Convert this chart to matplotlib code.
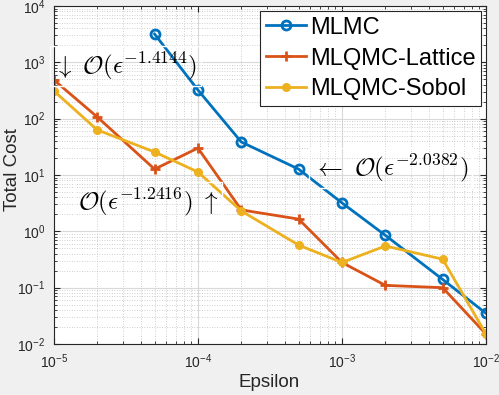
import matplotlib
matplotlib.use("Agg")
import matplotlib.pyplot as plt
import numpy as np

eps = [1e-5, 2e-5, 5e-5, 1e-4, 2e-4, 5e-4, 1e-3, 2e-3, 5e-3, 1e-2]
mlmc_eps = [5e-5, 1e-4, 2e-4, 5e-4, 1e-3, 2e-3, 5e-3, 1e-2]
mlmc = [3170, 322, 38.5, 12.7, 3.2, 0.85, 0.14, 0.035]
lattice = [485, 107, 12.7, 30, 2.4, 1.65, 0.28, 0.11, 0.10, 0.015]
sobol = [310, 63, 25.6, 11.3, 2.3, 0.57, 0.28, 0.55, 0.32, 0.015]

c_blue = "#0072BD"
c_red = "#D95319"
c_yel = "#EDB120"

plt.rcParams['mathtext.fontset'] = 'cm'
plt.rcParams['font.family'] = ['Liberation Sans', 'DejaVu Sans']

fig = plt.figure(figsize=(4.99, 3.95), dpi=100, facecolor="#f0f0f0")
ax = fig.add_axes([0.108, 0.129, 0.866, 0.856])
ax.set_facecolor("white")

ax.plot(mlmc_eps, mlmc, color=c_blue, lw=2, marker='o', ms=6.5, mfc='none', mew=2, label='MLMC')
ax.plot(eps, lattice, color=c_red, lw=2, marker='+', ms=7, mew=2, label='MLQMC-Lattice')
ax.plot(eps, sobol, color=c_yel, lw=2, marker='o', ms=5.5, mfc=c_yel, mec=c_yel, label='MLQMC-Sobol')

ax.set_xscale('log')
ax.set_yscale('log')
ax.set_xlim(1e-5, 1e-2)
ax.set_ylim(1e-2, 1e4)

ax.grid(True, which='major', color='#d9d9d9', lw=0.8, ls='-')
ax.grid(True, which='minor', color='#bfbfbf', lw=0.6, ls=(0, (1, 2)))
ax.set_axisbelow(True)

ax.tick_params(which='both', direction='in', top=True, right=True, colors='#262626', labelsize=10)
ax.tick_params(which='major', length=4, pad=6)
ax.tick_params(which='minor', length=2)
for s in ax.spines.values():
    s.set_color('#262626')
    s.set_linewidth(0.8)

ax.set_xlabel('Epsilon', fontsize=13.5, color='#262626')
ax.set_ylabel('Total Cost', fontsize=13.5, color='#262626')
ax.xaxis.set_label_coords(0.499, -0.088)
ax.yaxis.set_label_coords(-0.077, 0.515)

bb = dict(boxstyle='square,pad=0.15', facecolor='none', edgecolor='white', lw=1)
ax.text(1.0e-5, 860, r'$\downarrow\ \mathcal{O}(\epsilon^{-1.4144})$', fontsize=18,
        ha='left', va='center', bbox=bb, clip_on=False)
ax.text(6.3e-4, 13.3, r'$\leftarrow\ \mathcal{O}(\epsilon^{-2.0382})$', fontsize=18,
        ha='left', va='center', bbox=bb, clip_on=False)
ax.text(1.38e-4, 3.3, r'$\mathcal{O}(\epsilon^{-1.2416})\ \uparrow$', fontsize=18,
        ha='right', va='center', bbox=bb, clip_on=False)

leg = ax.legend(loc='upper right', fontsize=17, frameon=True, fancybox=False,
                edgecolor='#262626', framealpha=1, handlelength=1.7, handletextpad=0.15,
                borderpad=0.25, labelspacing=0.38, borderaxespad=0.2)
leg.get_frame().set_linewidth(0.8)
leg.set_zorder(5)

fig.savefig('out.png', dpi=100, facecolor=fig.get_facecolor())
